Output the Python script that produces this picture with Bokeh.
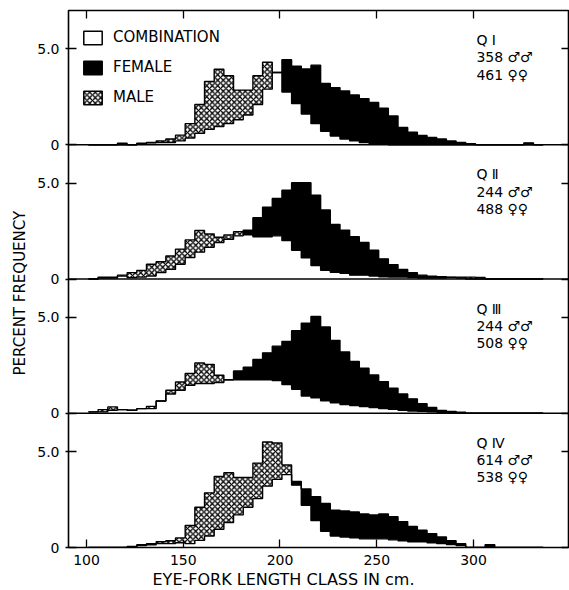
import numpy as np
from bokeh.plotting import figure
from bokeh.models import (FixedTicker, LinearAxis, Span, Legend, LegendItem, Range1d, Title)
from bokeh.core.properties import value
from bokeh.embed import file_html
from bokeh.resources import INLINE

# ---------------- data (percent frequency per 5-cm eye-fork length class) -------------
length_class = [101, 106, 111, 116, 121, 126, 131, 136, 141, 146,
                151, 156, 161, 166, 171, 176, 181, 186, 191, 196,
                201, 206, 211, 216, 221, 226, 231, 236, 241, 246,
                251, 256, 261, 266, 271, 276, 281, 286, 291, 296,
                301, 306, 311, 316, 321, 326, 331]
class_width = 5

quarters = ["Q \u2160", "Q \u2161", "Q \u2162", "Q \u2163"]
n_males = [358, 244, 244, 614]
n_females = [461, 488, 508, 538]

male_q1 = [0, 0, 0, 0, 0, 0.08, 0.12, 0.2, 0.3, 0.5,
           1.1, 2.1, 3.3, 3.94, 3.6, 2.85, 2.85, 3.6, 4.3, 3.77,
           2.75, 2.15, 1.6, 1.1, 0.7, 0.45, 0.3, 0.2, 0.12, 0.06,
           0.03, 0, 0, 0, 0, 0, 0, 0, 0, 0,
           0, 0, 0, 0, 0, 0, 0]
female_q1 = [0, 0, 0, 0.08, 0, 0.06, 0.1, 0.12, 0.12, 0.2,
             0.35, 0.6, 0.8, 0.95, 1.1, 1.3, 1.55, 2.1, 2.9, 3.77,
             4.43, 4.1, 3.95, 4.15, 3.2, 2.98, 2.8, 2.6, 2.4, 2.2,
             1.9, 1.5, 0.9, 0.65, 0.48, 0.38, 0.3, 0.2, 0.12, 0.06,
             0, 0, 0, 0, 0, 0.1, 0]

male_q2 = [0, 0.05, 0.05, 0.2, 0.33, 0.45, 0.77, 0.9, 1.2, 1.56,
           2.04, 2.53, 2.35, 2.18, 2.3, 2.47, 2.3, 2.2, 2.2, 2.25,
           2.0, 1.5, 1.1, 0.7, 0.45, 0.35, 0.3, 0.2, 0.2, 0.15,
           0.12, 0.1, 0.1, 0.08, 0.05, 0.05, 0.05, 0.1, 0.1, 0.1,
           0.08, 0, 0, 0, 0, 0, 0]
female_q2 = [0, 0.1, 0.1, 0.15, 0.07, 0.1, 0.16, 0.33, 0.5, 0.77,
             1.12, 1.4, 1.65, 1.9, 2.07, 2.25, 2.55, 3.2, 3.75, 4.2,
             4.63, 5.02, 5.02, 4.37, 3.6, 2.85, 2.55, 2.2, 1.9, 1.5,
             1.05, 0.75, 0.5, 0.33, 0.2, 0.15, 0.12, 0.08, 0.05, 0,
             0, 0, 0, 0, 0, 0, 0]

male_q3 = [0.07, 0.19, 0.33, 0.19, 0.16, 0.24, 0.36, 0.64, 1.2, 1.63,
           2.07, 2.62, 2.55, 1.98, 1.75, 1.75, 1.75, 1.75, 1.75, 1.7,
           1.5, 1.25, 0.9, 0.8, 0.65, 0.55, 0.45, 0.4, 0.35, 0.3,
           0.25, 0.2, 0.15, 0.12, 0.1, 0.08, 0.05, 0.05, 0, 0,
           0, 0, 0, 0, 0, 0, 0]
female_q3 = [0.07, 0.07, 0.16, 0.19, 0.16, 0.24, 0.24, 0.64, 1.0, 1.2,
             1.46, 1.55, 1.55, 1.6, 1.75, 2.2, 2.4, 2.8, 3.15, 3.5,
             3.75, 4.3, 4.7, 5.05, 4.5, 3.8, 3.2, 2.7, 2.35, 2.0,
             1.65, 1.3, 1.0, 0.75, 0.5, 0.3, 0.15, 0.1, 0.05, 0,
             0, 0, 0, 0, 0, 0, 0]

male_q4 = [0, 0, 0, 0, 0, 0.1, 0.2, 0.3, 0.35, 0.5,
           1.15, 2.1, 2.85, 3.7, 3.9, 3.65, 3.65, 4.4, 5.5, 5.45,
           4.3, 3.25, 2.2, 1.4, 0.85, 0.6, 0.55, 0.5, 0.45, 0.45,
           0.45, 0.4, 0.35, 0.3, 0.3, 0.25, 0.2, 0.15, 0.1, 0,
           0, 0, 0, 0, 0, 0, 0]
female_q4 = [0, 0, 0, 0, 0.05, 0.14, 0.14, 0.2, 0.2, 0.25,
             0.2, 0.37, 0.6, 0.95, 1.3, 1.7, 2.1, 2.55, 3.2, 3.55,
             3.8, 3.45, 3.05, 2.65, 2.3, 1.95, 1.9, 1.85, 1.75, 1.7,
             1.75, 1.6, 1.35, 1.1, 0.9, 0.72, 0.55, 0.35, 0.2, 0,
             0, 0.14, 0, 0, 0, 0, 0]

males = [male_q1, male_q2, male_q3, male_q4]
females = [female_q1, female_q2, female_q3, female_q4]

x_ticks = [100, 150, 200, 250, 300]
y_tick_values = [0, 5]
y_tick_labels = ["0", "5.0"]

# ---------------- figure ----------------
PANEL_H = 7.0
FONT = "DejaVu Sans"
HATCH = dict(hatch_pattern="diagonal_cross", hatch_color="black",
             hatch_scale=5.5, hatch_weight=1.3)

p = figure(width=569, height=590, output_backend="svg", toolbar_location=None,
           x_range=Range1d(90.7, 349.1), y_range=Range1d(0, 4 * PANEL_H),
           min_border_left=68, min_border_right=1, min_border_top=10,
           min_border_bottom=43, y_axis_location=None, x_axis_location=None)
p.grid.visible = False
p.outline_line_color = "black"
p.outline_line_width = 1.6
p.background_fill_color = "white"
p.border_fill_color = "white"

edges_left = np.array(length_class, dtype=float)
edges_right = edges_left + class_width
xs = np.append(edges_left, edges_right[-1])

y_ticks, y_over = [], {}
for k in range(4):
    off = (3 - k) * PANEL_H
    m = np.array(males[k], dtype=float)
    f = np.array(females[k], dtype=float)
    top = np.maximum(m, f)
    # female excess (black)
    p.varea_step(x=xs, y1=np.append(m, m[-1]) + off, y2=np.append(top, top[-1]) + off,
                 step_mode="after", fill_color="black")
    # male excess (cross-hatched)
    p.varea_step(x=xs, y1=np.append(f, f[-1]) + off, y2=np.append(top, top[-1]) + off,
                 step_mode="after", fill_color="white", **HATCH)
    for arr in (m, f):
        p.step(x=xs, y=np.append(arr, 0) + off, mode="after",
               line_color="black", line_width=1.4)
    for tv, tl in zip(y_tick_values, y_tick_labels):
        y_ticks.append(off + tv)
        y_over[off + tv] = tl
    if k < 3:
        p.add_layout(Span(location=off, dimension="width", line_color="black",
                          line_width=1.6))
    # panel annotations
    p.text(x=[301.5, 301.5, 301.5],
           y=[off + 5.45, off + 4.55, off + 3.65],
           text=[quarters[k], f"{n_males[k]} \u2642\u2642", f"{n_females[k]} \u2640\u2640"],
           text_font=value(FONT), text_font_size=value("14px"),
           text_baseline="middle", text_align="left", text_color="black")

# ---------------- axes ----------------
def style(ax):
    ax.major_label_text_font = FONT
    ax.major_label_text_color = "black"
    ax.major_tick_line_color = "black"
    ax.major_tick_line_width = 1.3
    ax.minor_tick_line_color = None
    ax.axis_line_color = None


def tick_only(ax, ticks):
    ax.major_label_overrides = {t: "" for t in ticks}
    ax.major_label_text_color = None
    ax.major_label_text_font_size = "1px"
    ax.major_label_standoff = 0
    ax.major_tick_out = 0


yl = LinearAxis(ticker=FixedTicker(ticks=y_ticks), major_label_overrides=y_over)
style(yl)
yl.major_tick_in = 8
yl.major_tick_out = 3
yl.major_label_standoff = 6
yl.major_label_text_font_size = "14px"
p.add_layout(yl, "left")

yr = LinearAxis(ticker=FixedTicker(ticks=y_ticks))
style(yr)
tick_only(yr, y_ticks)
yr.major_tick_in = 7
p.add_layout(yr, "right")

xb = LinearAxis(ticker=FixedTicker(ticks=x_ticks))
style(xb)
xb.major_tick_in = 8
xb.major_tick_out = 0
xb.major_label_standoff = 7
xb.major_label_text_font_size = "14px"
p.add_layout(xb, "below")

xt = LinearAxis(ticker=FixedTicker(ticks=x_ticks))
style(xt)
tick_only(xt, x_ticks)
xt.major_tick_in = 8
p.add_layout(xt, "above")

# axis titles
p.add_layout(Title(text="EYE-FORK LENGTH CLASS IN cm.", align="left", offset=84,
                   standoff=0, text_font=FONT, text_font_size="16px",
                   text_font_style="normal", text_color="black"), "below")
p.add_layout(Title(text="PERCENT FREQUENCY", align="left", offset=172,
                   standoff=11, text_font=FONT, text_font_size="15px",
                   text_font_style="normal", text_color="black"), "left")

# ---------------- legend ----------------
nan = [np.nan]
r_comb = p.quad(left=nan, right=nan, top=nan, bottom=nan, fill_color="white",
                line_color="black", line_width=1.5)
r_fem = p.quad(left=nan, right=nan, top=nan, bottom=nan, fill_color="black",
               line_color="black", line_width=1.5)
r_male = p.quad(left=nan, right=nan, top=nan, bottom=nan, fill_color="white",
                line_color="black", line_width=1.5, **HATCH)
legend = Legend(items=[LegendItem(label="COMBINATION", renderers=[r_comb]),
                       LegendItem(label="FEMALE", renderers=[r_fem]),
                       LegendItem(label="MALE", renderers=[r_male])],
                location=(13, 441), padding=0, margin=0,
                border_line_color=None, background_fill_alpha=0,
                glyph_width=23, glyph_height=17, label_height=17,
                spacing=12, label_standoff=9,
                label_text_font=FONT, label_text_font_size="15px",
                label_text_color="black")
p.add_layout(legend)

open("out.html", "w").write(file_html(p, INLINE))
